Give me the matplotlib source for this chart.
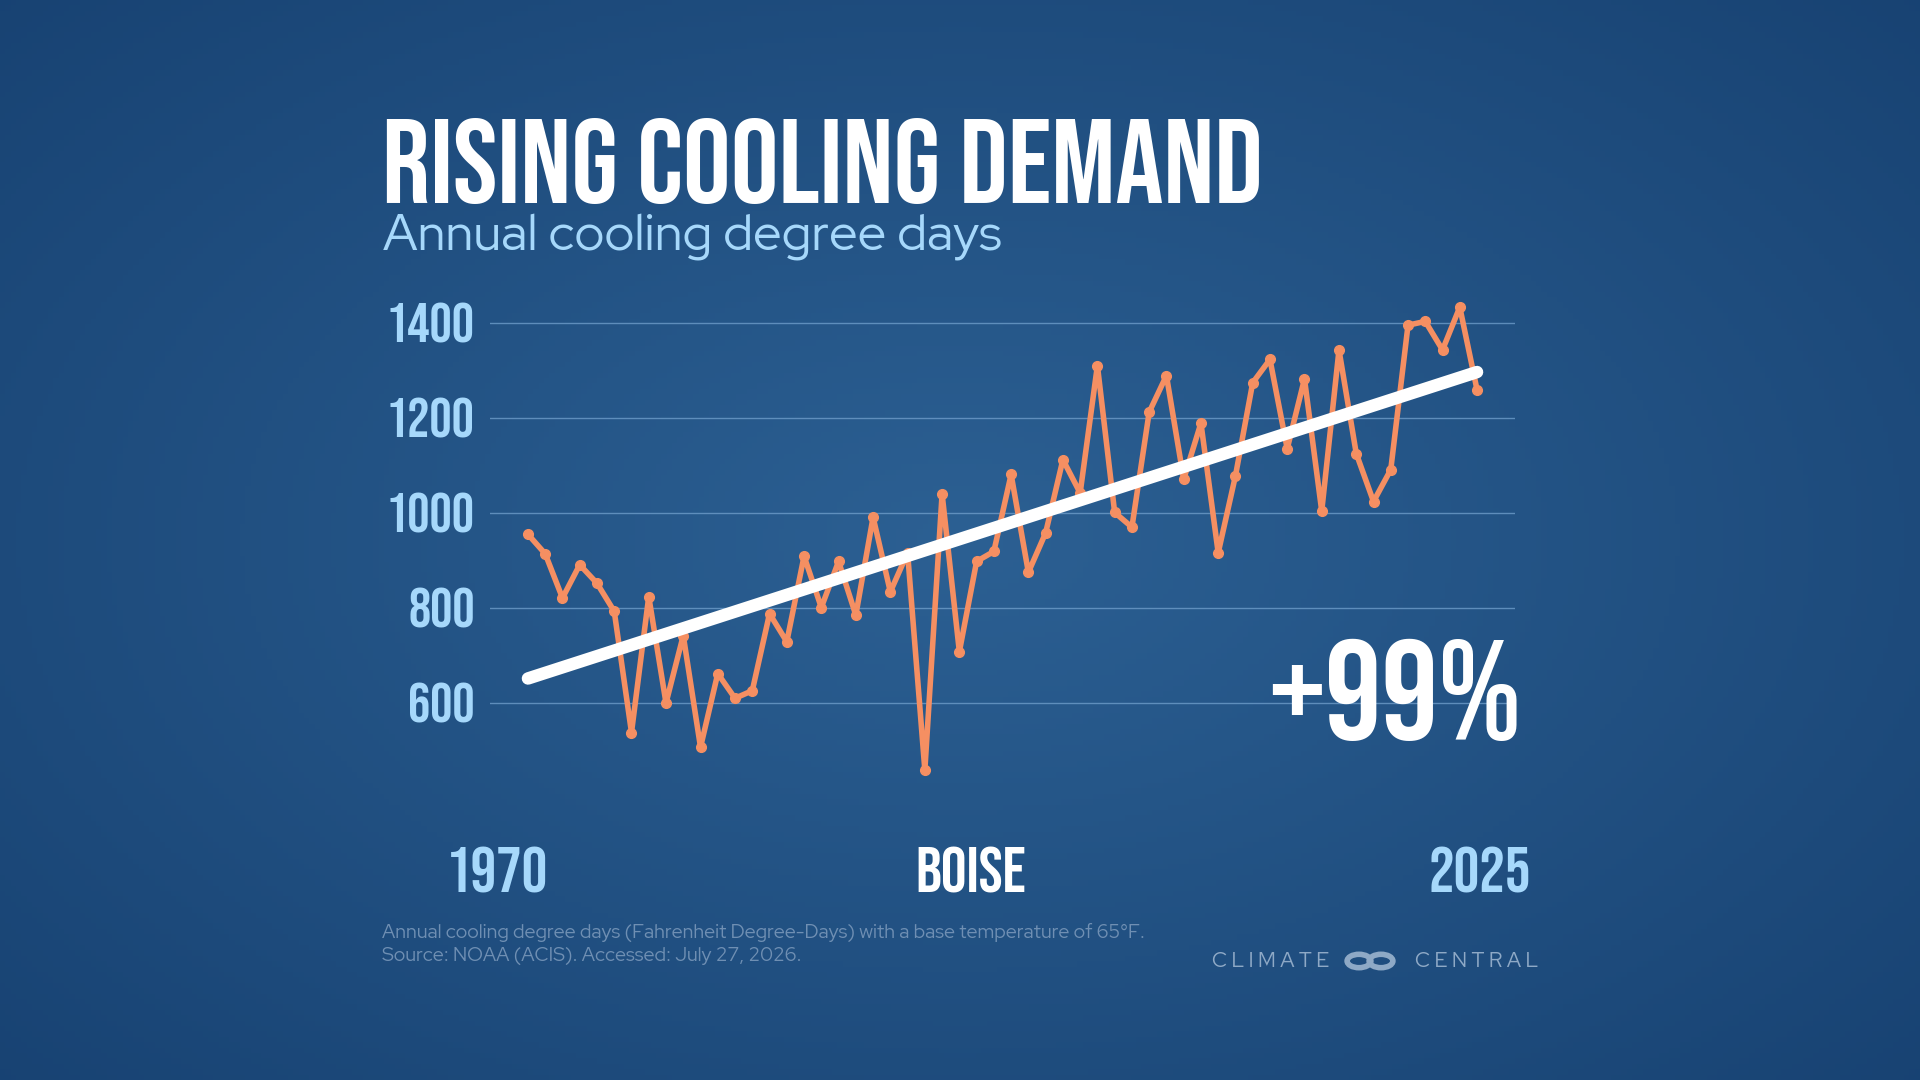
import numpy as np
import matplotlib.pyplot as plt
from matplotlib.patches import Circle

years = list(range(1970, 2026))
cdd = [955, 914, 821, 891, 852, 793, 538, 824, 600, 742,
       507, 662, 610, 626, 788, 729, 909, 801, 898, 785,
       991, 834, 916, 459, 1040, 708, 898, 919, 1081, 875,
       958, 1112, 1042, 1310, 1001, 970, 1212, 1289, 1071, 1189,
       916, 1078, 1274, 1323, 1135, 1282, 1004, 1343, 1125, 1024,
       1091, 1395, 1403, 1343, 1433, 1259]
yticks = [600, 800, 1000, 1200, 1400]
title = "RISING COOLING DEMAND"
subtitle = "Annual cooling degree days"
city = "BOISE"
change = "+99%"

W, H = 1920, 1080
fig = plt.figure(figsize=(19.2, 10.8), dpi=100)
bg = fig.add_axes([0, 0, 1, 1])
yy, xx = np.mgrid[0:1:200j, 0:1:360j]
r = np.sqrt(((xx - 0.5) / 0.75) ** 2 + ((yy - 0.5) / 0.8) ** 2)
c1 = np.array([0x2c, 0x60, 0x93]) / 255
c2 = np.array([0x16, 0x40, 0x70]) / 255
t = np.clip(r, 0, 1)[..., None]
img = c1 * (1 - t) + c2 * t
bg.imshow(img, aspect='auto', extent=[0, 1, 0, 1])
bg.set_xlim(0, 1); bg.set_ylim(0, 1); bg.axis('off')

def fx(px): return px / W
def fy(py): return 1 - py / H

cond = 'Bebas Neue'
sans = 'Red Hat Display'
light = '#a6d8fb'

ax = fig.add_axes([fx(490), fy(800), fx(1515) - fx(490), (800 - 300) / H])
ax.patch.set_alpha(0)
ax.set_xlim(1967.8, 2027.2)
ax.set_ylim(396, 1448)
for v in yticks:
    ax.axhline(v, color='#6d9cc9', lw=1, alpha=0.8, zorder=1)
ax.plot(years, cdd, color='#f58f62', lw=4, marker='o', ms=7, zorder=3,
        solid_joinstyle='round')
coef = np.polyfit(years, cdd, 1)
trend = np.polyval(coef, [years[0], years[-1]])
ax.plot([years[0], years[-1]], trend, color='white', lw=9,
        solid_capstyle='round', zorder=4)
for s in ax.spines.values():
    s.set_visible(False)
ax.set_xticks([]); ax.set_yticks(yticks)
ax.set_yticklabels([str(v) for v in yticks], family=cond,
                   fontsize=40, color=light)
ax.tick_params(axis='y', length=0, pad=11)

fig.text(fx(382), fy(203), title, family=cond, fontsize=86,
         color='white', va='baseline')
fig.text(fx(383), fy(250), subtitle, family=sans, fontsize=36.5,
         color=light, va='baseline')
fig.text(fx(497), fy(870), str(years[0]), family=cond, fontsize=46,
         color=light, ha='center', va='center')
fig.text(fx(971), fy(870), city, family=cond, fontsize=46,
         color='white', ha='center', va='center')
fig.text(fx(1480), fy(870), str(years[-1]), family=cond, fontsize=46,
         color=light, ha='center', va='center')
fig.text(fx(1522), fy(690), change, family=cond, fontsize=102,
         color='white', ha='right', va='center')
fig.text(fx(382), fy(944),
         "Annual cooling degree days (Fahrenheit Degree-Days) with a base temperature of 65°F.\nSource: NOAA (ACIS). Accessed: July 27, 2026.",
         family=sans, fontsize=14, color='#6f8fb3', va='center',
         linespacing=1.3)
fig.text(fx(1212), fy(961), "C L I M A T E", family=sans, weight='bold',
         fontsize=15, color='#8ea9c6', va='center')
fig.text(fx(1538), fy(961), "C E N T R A L", family=sans, weight='bold',
         fontsize=15, color='#8ea9c6', va='center', ha='right')
for cx in (1359, 1381):
    bg.add_patch(Circle((fx(cx), fy(961)), 0.0062, transform=bg.transAxes,
                        fill=False, ec='#8ea9c6', lw=4))
fig.savefig('out.png', dpi=100)
